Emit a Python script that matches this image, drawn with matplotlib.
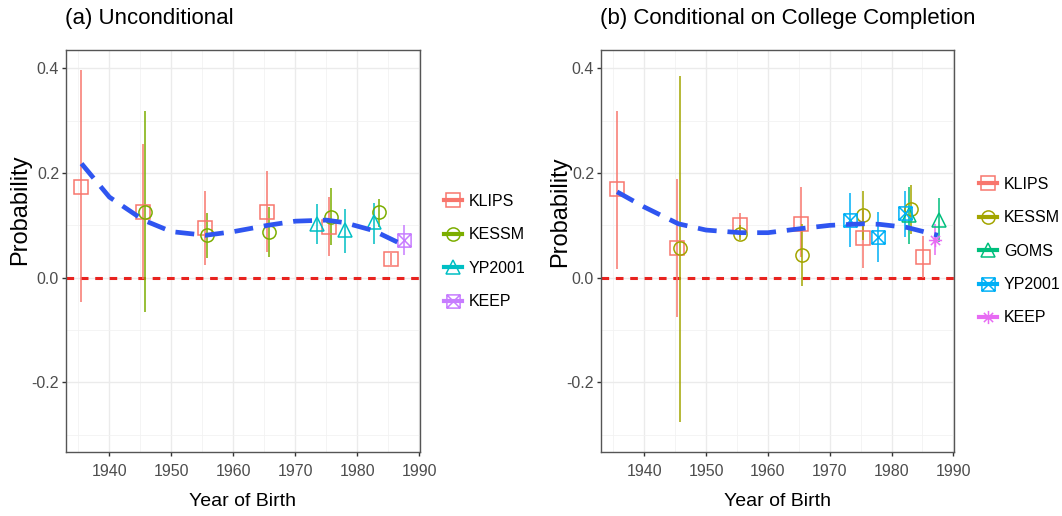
import matplotlib
matplotlib.use("Agg")
import matplotlib.pyplot as plt
from matplotlib.path import Path
from matplotlib.lines import Line2D
from matplotlib.ticker import MultipleLocator

plt.rcParams["font.family"] = ["Liberation Sans", "DejaVu Sans"]

# ---- panel (a) unconditional ----
klips_a_year = [1935.5, 1945.4, 1955.5, 1965.5, 1975.5, 1985.5]
klips_a_est = [0.173, 0.126, 0.094, 0.126, 0.097, 0.035]
klips_a_lo = [-0.046, -0.003, 0.024, 0.050, 0.041, 0.024]
klips_a_hi = [0.396, 0.256, 0.165, 0.204, 0.154, 0.047]

kessm_a_year = [1945.8, 1955.7, 1965.7, 1975.7, 1983.5]
kessm_a_est = [0.126, 0.081, 0.088, 0.116, 0.126]
kessm_a_lo = [-0.066, 0.037, 0.039, 0.062, 0.097]
kessm_a_hi = [0.318, 0.123, 0.135, 0.171, 0.151]

yp_a_year = [1973.5, 1978.0, 1982.6]
yp_a_est = [0.103, 0.091, 0.107]
yp_a_lo = [0.064, 0.048, 0.064]
yp_a_hi = [0.140, 0.131, 0.143]

keep_a_year = [1987.5]
keep_a_est = [0.072]
keep_a_lo = [0.043]
keep_a_hi = [0.100]

fit_a_year = [1935.5, 1940, 1945.5, 1950, 1955.5, 1960, 1965.5, 1970, 1975, 1978, 1982.6, 1987.5]
fit_a = [0.218, 0.154, 0.110, 0.088, 0.081, 0.088, 0.100, 0.108, 0.110, 0.105, 0.090, 0.062]

# ---- panel (b) conditional on college completion ----
klips_b_year = [1935.6, 1945.3, 1955.5, 1965.3, 1975.3, 1985.1]
klips_b_est = [0.169, 0.056, 0.100, 0.102, 0.075, 0.040]
klips_b_lo = [0.016, -0.075, 0.078, 0.040, 0.018, 0.000]
klips_b_hi = [0.318, 0.189, 0.123, 0.173, 0.129, 0.079]

kessm_b_year = [1945.7, 1955.5, 1965.5, 1975.4, 1983.2]
kessm_b_est = [0.056, 0.084, 0.044, 0.119, 0.132]
kessm_b_lo = [-0.276, 0.072, -0.016, 0.072, 0.084]
kessm_b_hi = [0.386, 0.100, 0.103, 0.166, 0.178]

goms_b_year = [1982.8, 1987.7]
goms_b_est = [0.119, 0.110]
goms_b_lo = [0.064, 0.069]
goms_b_hi = [0.173, 0.153]

yp_b_year = [1973.3, 1977.8, 1982.1]
yp_b_est = [0.110, 0.078, 0.123]
yp_b_lo = [0.059, 0.030, 0.078]
yp_b_hi = [0.161, 0.126, 0.166]

keep_b_year = [1987.1]
keep_b_est = [0.072]
keep_b_lo = [0.043]
keep_b_hi = [0.103]

fit_b_year = [1935.6, 1940, 1945.5, 1950, 1955.5, 1960, 1965.5, 1970, 1975.4, 1978, 1982.5, 1987.5]
fit_b = [0.164, 0.135, 0.103, 0.091, 0.086, 0.086, 0.094, 0.100, 0.103, 0.102, 0.096, 0.081]

# custom markers (ggplot shapes 7 and 8)
boxcross = Path([(-1, -1), (1, -1), (1, 1), (-1, 1), (-1, -1), (-1, -1), (1, 1), (-1, 1), (1, -1)],
                [Path.MOVETO, Path.LINETO, Path.LINETO, Path.LINETO, Path.CLOSEPOLY,
                 Path.MOVETO, Path.LINETO, Path.MOVETO, Path.LINETO])
asterisk = Path([(-1, 0), (1, 0), (0, -1), (0, 1), (-0.7, -0.7), (0.7, 0.7), (-0.7, 0.7), (0.7, -0.7)],
                [Path.MOVETO, Path.LINETO] * 4)

series_a = [
    ("KLIPS", klips_a_year, klips_a_est, klips_a_lo, klips_a_hi, "#F8766D", "s"),
    ("KESSM", kessm_a_year, kessm_a_est, kessm_a_lo, kessm_a_hi, "#7CAE00", "o"),
    ("YP2001", yp_a_year, yp_a_est, yp_a_lo, yp_a_hi, "#00BFC4", "^"),
    ("KEEP", keep_a_year, keep_a_est, keep_a_lo, keep_a_hi, "#C77CFF", boxcross),
]
series_b = [
    ("KLIPS", klips_b_year, klips_b_est, klips_b_lo, klips_b_hi, "#F8766D", "s"),
    ("KESSM", kessm_b_year, kessm_b_est, kessm_b_lo, kessm_b_hi, "#A3A500", "o"),
    ("GOMS", goms_b_year, goms_b_est, goms_b_lo, goms_b_hi, "#00BF7D", "^"),
    ("YP2001", yp_b_year, yp_b_est, yp_b_lo, yp_b_hi, "#00B0F6", boxcross),
    ("KEEP", keep_b_year, keep_b_est, keep_b_lo, keep_b_hi, "#E76BF3", asterisk),
]

fig = plt.figure(figsize=(10.62, 5.16), dpi=100)
ax1 = fig.add_axes([66 / 1062, 64 / 516, 354 / 1062, 402 / 516])
ax2 = fig.add_axes([601 / 1062, 64 / 516, 353 / 1062, 402 / 516])


def panel(ax, series, fit_year, fit, title, leg_x, leg_y):
    ax.set_xlim(1933.0, 1990.1)
    ax.set_ylim(-0.333, 0.435)
    ax.xaxis.set_major_locator(MultipleLocator(10))
    ax.xaxis.set_minor_locator(MultipleLocator(5))
    ax.yaxis.set_major_locator(MultipleLocator(0.2))
    ax.yaxis.set_minor_locator(MultipleLocator(0.1))
    ax.grid(which="major", color="#EBEBEB", lw=1.0)
    ax.grid(which="minor", color="#F2F2F2", lw=0.6)
    ax.set_axisbelow(True)
    for s in ax.spines.values():
        s.set_color("#555555")
        s.set_linewidth(1.0)
    ax.tick_params(which="major", length=3, width=1, color="#333333", labelcolor="#4D4D4D",
                   labelsize=11.5, pad=2)
    ax.tick_params(axis="x", pad=6)
    ax.tick_params(which="minor", length=0)
    ax.set_yticks([0.4, 0.2, 0.0, -0.2])
    ax.set_yticklabels(["0.4", "0.2", "0.0", "-0.2"])

    ax.axhline(0, color="#E8231F", lw=2.2, ls=(0, (2.5, 2.2)), zorder=2)

    handles = []
    for name, yr, est, lo, hi, col, mk in series:
        ax.vlines(yr, lo, hi, color=col, lw=1.1, zorder=3)
        ax.plot(yr, est, ls="none", marker=mk, ms=9.5, mfc="none", mec=col, mew=1.1, zorder=4)
        handles.append(Line2D([], [], color=col, lw=3, marker=mk, ms=9.5, mfc="none",
                              mec=col, mew=1.1, label=name))

    ax.plot(fit_year, fit, color="#2F55F0", lw=3.4, ls=(0, (4.0, 2.3)), zorder=5,
            solid_capstyle="butt")

    ax.set_xlabel("Year of Birth", fontsize=14, color="black", labelpad=10)
    fig.text(ax.get_position().x0 - 0.001, 0.985, title, fontsize=16, va="top", ha="left")

    ax.legend(handles=handles, loc="upper left", bbox_to_anchor=(leg_x, leg_y),
              bbox_transform=fig.transFigure, frameon=False, fontsize=11.5,
              handlelength=1.1, handletextpad=0.45, labelspacing=1.15,
              borderpad=0, borderaxespad=0)


panel(ax1, series_a, fit_a_year, fit_a, "(a) Unconditional", 444 / 1062, 1 - 194 / 516)
panel(ax2, series_b, fit_b_year, fit_b, "(b) Conditional on College Completion",
      979 / 1062, 1 - 177 / 516)

fig.text(20 / 1062, 1 - 210 / 516, "Probability", rotation=90, fontsize=17,
         ha="center", va="center")
fig.text(560 / 1062, 1 - 212 / 516, "Probability", rotation=90, fontsize=17,
         ha="center", va="center")

fig.savefig("out.png", dpi=100, facecolor="white")
